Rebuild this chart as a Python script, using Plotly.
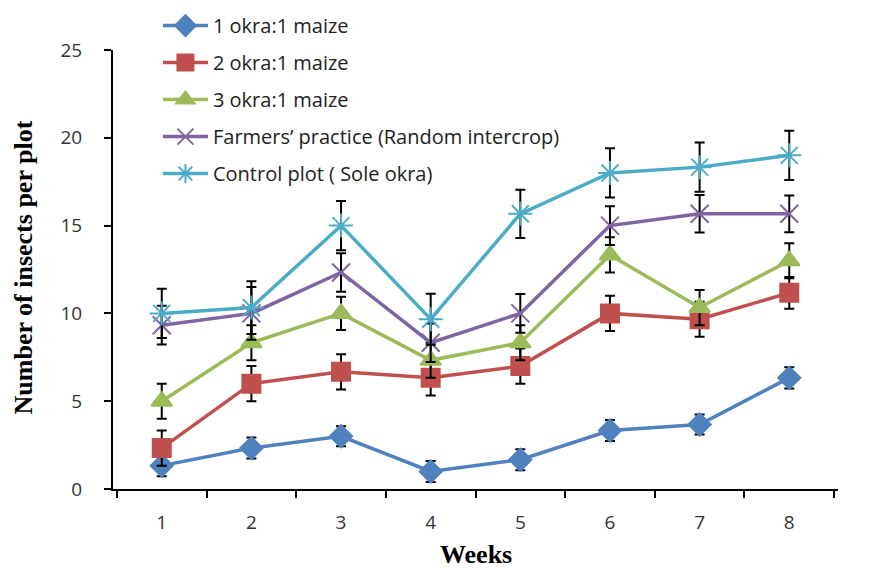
import plotly.graph_objects as go

weeks = ["1", "2", "3", "4", "5", "6", "7", "8"]
names = ["1 okra:1 maize", "2 okra:1 maize", "3 okra:1 maize",
         "Farmers’ practice (Random intercrop)", "Control plot ( Sole okra)"]
s1 = [1.33, 2.33, 3.0, 1.0, 1.67, 3.33, 3.67, 6.33]
s2 = [2.33, 6.0, 6.67, 6.33, 7.0, 10.0, 9.67, 11.17]
s3 = [5.0, 8.33, 10.0, 7.33, 8.33, 13.33, 10.33, 13.0]
s4 = [9.33, 10.0, 12.33, 8.33, 10.0, 15.0, 15.67, 15.67]
s5 = [10.0, 10.33, 15.0, 9.67, 15.67, 18.0, 18.33, 19.0]
e1 = [0.6, 0.6, 0.57, 0.6, 0.6, 0.6, 0.57, 0.6]
e2 = [1.0, 1.0, 1.0, 1.0, 1.0, 1.0, 1.0, 0.9]
e3 = [1.0, 1.0, 0.95, 1.0, 1.0, 1.0, 1.0, 1.0]
e4 = [1.1, 1.5, 1.1, 1.1, 1.1, 1.1, 1.07, 1.05]
e5 = [1.4, 1.5, 1.4, 1.45, 1.37, 1.4, 1.4, 1.4]
x_title = "Weeks"
y_title = "Number of insects per plot"

series = [s1, s2, s3, s4, s5]
errors = [e1, e2, e3, e4, e5]
colors = ["#4F81BD", "#C0504D", "#9BBB59", "#8064A2", "#4BACC6"]
symbols = ["diamond", "square", "triangle-up", "x-thin-open", "asterisk-open"]
sizes = [17, 18, 18, 18, 20]

fig = go.Figure()
for i in range(5):
    fig.add_trace(go.Scatter(
        x=weeks, y=series[i], name=names[i], mode="lines+markers",
        legendgroup=f"g{i}",
        line=dict(color=colors[i], width=3.5),
        marker=dict(symbol=symbols[i], size=sizes[i], color=colors[i],
                    line=dict(color=colors[i], width=2)),
        error_y=dict(type="data", array=errors[i], visible=True,
                     color="black", thickness=2, width=5),
    ))

fig.update_layout(
    width=871, height=570,
    margin=dict(l=105, r=41, t=42, b=89, autoexpand=False),
    plot_bgcolor="white", paper_bgcolor="white",
    showlegend=True,
    legend=dict(x=0.062, y=1.1, xanchor="left", yanchor="top",
                font=dict(family="Open Sans", size=20, color="#222222"),
                bgcolor="rgba(0,0,0,0)", traceorder="grouped",
                tracegroupgap=8, itemwidth=45),
    xaxis=dict(
        type="category", tickson="boundaries", ticks="outside", ticklen=7,
        tickwidth=2, tickcolor="black", showline=True, linecolor="black",
        linewidth=2, showgrid=False, zeroline=False, automargin=False,
        ticklabelstandoff=15,
        tickfont=dict(family="Open Sans", size=19, color="#333333"),
    ),
    yaxis=dict(
        range=[0, 25], tickvals=[0, 5, 10, 15, 20, 25], ticks="outside",
        ticklen=7, tickwidth=2, tickcolor="black", showline=True,
        linecolor="black", linewidth=2, showgrid=False, zeroline=False,
        automargin=False, ticklabelstandoff=18,
        tickfont=dict(family="Open Sans", size=19, color="#333333"),
    ),
    annotations=[
        dict(text=f"<b>{x_title}</b>", xref="paper", yref="paper",
             x=0.501, y=-0.15, xanchor="center", yanchor="middle",
             showarrow=False,
             font=dict(family="Liberation Serif", size=26, color="black")),
        dict(text=f"<b>{y_title}</b>", xref="paper", yref="paper",
             x=-0.124, y=0.505, xanchor="center", yanchor="middle",
             textangle=-90, showarrow=False,
             font=dict(family="Liberation Serif", size=26, color="black")),
    ],
)

fig.write_html("out.html")
